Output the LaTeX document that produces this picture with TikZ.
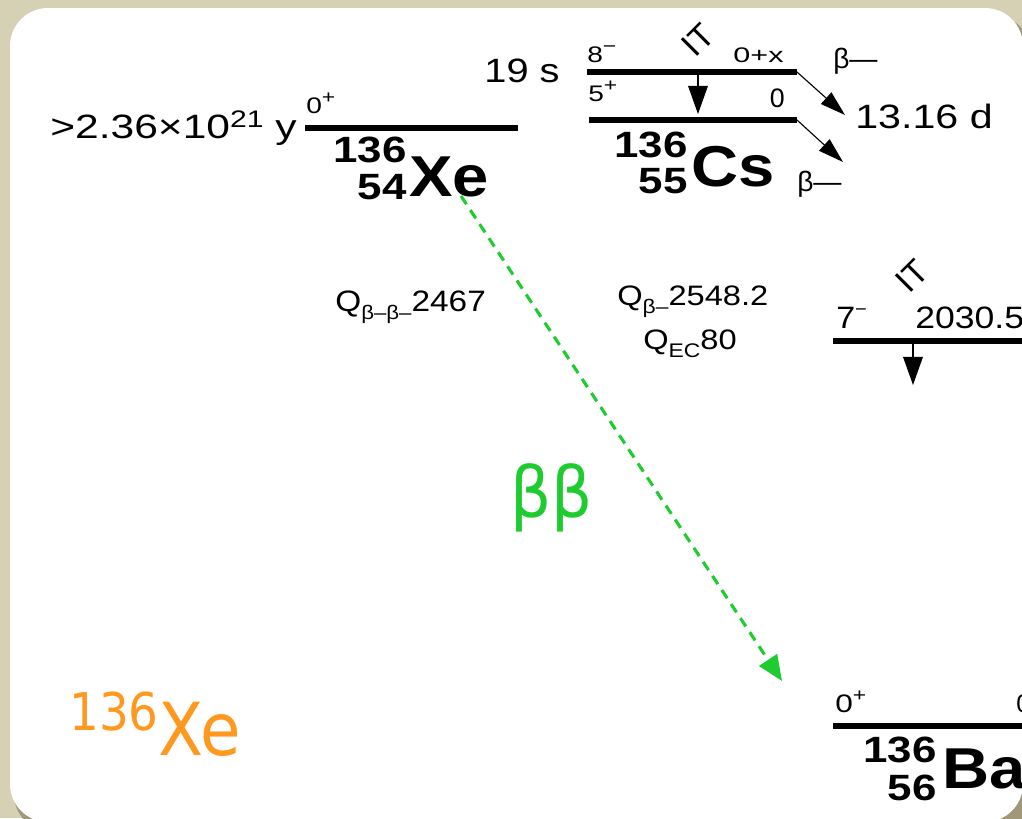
\documentclass[tikz,border=0pt]{standalone}
\usepackage{fontspec}
\setmainfont{Liberation Sans}
\newfontfamily\roundfont{DejaVu Sans}
\usepackage{tikz}
\usetikzlibrary{
    arrows.meta,
    positioning
}
\definecolor{bgbeige}{RGB}{214,208,181}
\definecolor{bgshadow}{RGB}{160,152,120}
\definecolor{bbgreen}{RGB}{30,204,48}
\definecolor{tagorange}{RGB}{255,152,30}
\newcommand{\fsz}[1]{\fontsize{#1}{#1}\selectfont}
\newcommand{\upr}[1]{\raisebox{0.42em}{\fsz{13}#1}}
\tikzstyle{level} = [
    line width=4.6pt,
    draw=black
]
\tikzstyle{txt} = [
    inner sep=0pt,
    anchor=base west
]
\tikzstyle{spin} = [
    txt,
    font=\fsz{16},
    xscale=1.25
]
\tikzstyle{decay} = [
    -{Triangle[length=18pt,width=11pt]},
    line width=0.8pt
]
\tikzstyle{gamma} = [
    -{Triangle[length=20pt,width=14pt]},
    line width=0.8pt
]
\tikzstyle{mass} = [
    inner sep=0pt,
    anchor=base east,
    font=\fsz{26}\bfseries,
    xscale=1.2
]
\tikzstyle{symbol} = [
    inner sep=0pt,
    anchor=base west,
    font=\fsz{41}\bfseries,
    xscale=1.13
]
\tikzstyle{itlabel} = [
    inner sep=0pt,
    rotate=45,
    font=\fsz{24}
]

\begin{document}
\begin{tikzpicture}[x=0.025cm, y=-0.025cm]
        % Frame
        \useasboundingbox (0,0) rectangle (1022,818);
        \fill[bgbeige] (0,0) rectangle (1022,818);
        \fill[bgshadow, rounded corners=0.95cm] (14,16) rectangle (1032,832);
        \fill[white, rounded corners=0.95cm] (10,8) rectangle (1023,822);

        \begin{scope}
        \clip[rounded corners=0.95cm] (10,8) rectangle (1023,822);

        % 136Xe ground state
        \coordinate (xeL) at (305,128);
        \coordinate (xeR) at (518,128);
        \draw[level] (xeL) -- (xeR);
        \node[txt, anchor=base east, font=\fsz{24}, xscale=1.26] (xeLife) at (297,138) {>2.36×10\raisebox{0.3em}{\fsz{17}21} y};
        \node[spin] (xeSpin) at (306,113) {0\upr{+}};
        \node[mass] (xeA) at (407,162) {136};
        \node[mass] (xeZ) at (407,199) {54};
        \node[symbol] (xeSym) at (409,196) {Xe};

        % 136Cs isomer and ground state
        \coordinate (csmL) at (587,72);
        \coordinate (csmR) at (797,72);
        \coordinate (csgL) at (589,120);
        \coordinate (csgR) at (797,120);
        \draw[level] (csmL) -- (csmR);
        \draw[level] (csgL) -- (csgR);
        \node[txt, anchor=base east, font=\fsz{24}, xscale=1.18] (csmLife) at (560,82) {19 s};
        \node[spin] (csmSpin) at (587,62) {8\upr{−}};
        \node[txt, font=\fsz{15}, xscale=1.45] (csmE) at (733,62) {0+x};
        \node[itlabel] (csIT) at (698,40) {IT};
        \node[spin] (csgSpin) at (588,101) {5\upr{+}};
        \node[txt, anchor=base east, font=\fsz{19}] (csgE) at (785,107) {0};
        \node[mass] (csA) at (688,157) {136};
        \node[mass] (csZ) at (688,193) {55};
        \node[symbol] (csSym) at (691,186) {Cs};

        % Cs decays
        \coordinate (csmBeta) at (845,115);
        \coordinate (csgBeta) at (843,162);
        \coordinate (csmDown) at (698,75);
        \coordinate (csgDown) at (698,114);
        \draw[gamma] (csmDown) -- (csgDown);
        \draw[decay] (csmR) -- (csmBeta);
        \draw[decay] (csgR) -- (csgBeta);
        \node[txt, font=\fsz{20}] (betaUp) at (833,68) {β—};
        \node[txt, font=\fsz{24}, xscale=1.22] (csgLife) at (855,128) {13.16 d};
        \node[txt, font=\fsz{20}] (betaLow) at (797,191) {β—};

        % Q values
        \node[txt, font=\fsz{21}, xscale=1.13] (qbb) at (335,311) {Q\raisebox{-0.3em}{\fsz{14}β–β–}2467};
        \node[txt, font=\fsz{20}, xscale=1.16] (qbeta) at (617,305) {Q\raisebox{-0.3em}{\fsz{14}β–}2548.2};
        \node[txt, font=\fsz{20}, xscale=1.16] (qec) at (643,349) {Q\raisebox{-0.3em}{\fsz{14}EC}80};

        % 136Ba excited state
        \coordinate (baxL) at (833,341);
        \coordinate (baxR) at (1040,341);
        \draw[level] (baxL) -- (baxR);
        \node[txt, font=\fsz{22}, xscale=1.1] (baxSpin) at (836,328) {7\upr{−}};
        \node[txt, font=\fsz{22}, xscale=1.15] (baxE) at (915,328) {2030.52};
        \node[itlabel] (baxIT) at (912,276) {IT};
        \coordinate (baxTop) at (913,343);
        \coordinate (baxTip) at (913,385);
        \draw[gamma] (baxTop) -- (baxTip);

        % 136Ba ground state
        \coordinate (bagL) at (833,726);
        \coordinate (bagR) at (1040,726);
        \draw[level] (bagL) -- (bagR);
        \node[spin, font=\fsz{18}] (bagSpin) at (835,712) {0\upr{+}};
        \node[txt, font=\fsz{18}] (bagE) at (1016,712) {0};
        \node[mass] (baA) at (937,762) {136};
        \node[mass] (baZ) at (937,800) {56};
        \node[symbol] (baSym) at (942,788) {Ba};

        % double beta decay
        \coordinate (bbStart) at (461,196);
        \coordinate (bbTip) at (782,681);
        \draw[bbgreen, line width=2.2pt, dash pattern=on 7pt off 5pt,
              -{Triangle[length=18pt,width=15pt]}] (bbStart) -- (bbTip);
        \node[txt, text=bbgreen, font=\roundfont\fsz{50}, xscale=0.92] (bbLabel) at (510,517) {ββ};

        % isotope tag
        \node[txt, text=tagorange, font=\roundfont\fsz{52}, xscale=0.9] (xeTag) at (69,755) {\raisebox{0.33em}{\fsz{37}136}Xe};
        \end{scope}
    \end{tikzpicture}
\end{document}
